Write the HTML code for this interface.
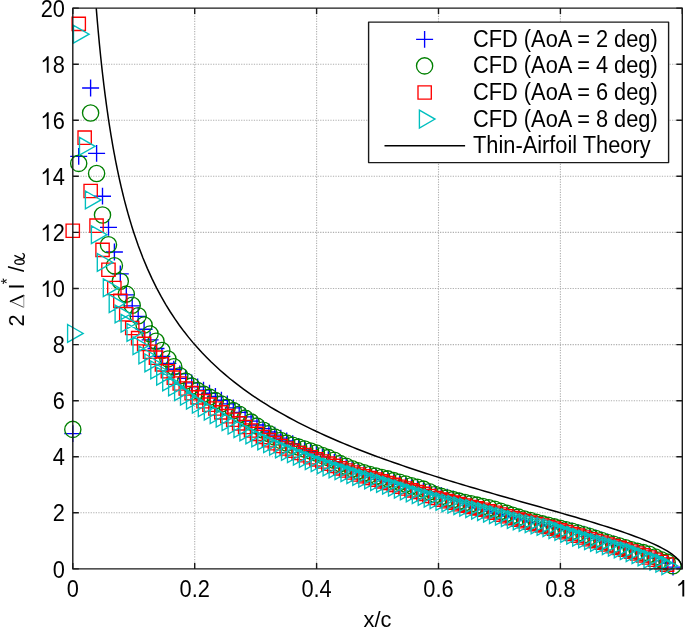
<!DOCTYPE html><html><head><meta charset="utf-8"><style>html,body{margin:0;padding:0;background:#fff}svg{display:block}text{font-family:"Liberation Sans",sans-serif}</style></head><body>
<svg width="685" height="628" viewBox="0 0 685 628">
<defs><filter id="gs" x="0" y="0" width="685" height="628" filterUnits="userSpaceOnUse"><feColorMatrix type="saturate" values="0"/></filter></defs>
<rect width="685" height="628" fill="#fff"/>
<path d="M194.7 8.1V568.9M316.6 8.1V568.9M438.5 8.1V568.9M560.4 8.1V568.9M72.8 512.8H682.3M72.8 456.7H682.3M72.8 400.7H682.3M72.8 344.6H682.3M72.8 288.5H682.3M72.8 232.4H682.3M72.8 176.3H682.3M72.8 120.3H682.3M72.8 64.2H682.3" stroke="#b0b0b0" stroke-width="1.1" stroke-dasharray="1.25 1.3" fill="none"/>
<path d="M64.3 433.6h17M72.8 425.2v16.8M70.2 156.4h17M78.7 148v16.8M82.1 88h17M90.6 79.6v16.8M88.1 153.3h17M96.6 144.9v16.8M94 196.2h17M102.5 187.8v16.8M100 227.4h17M108.5 219v16.8M105.9 252h17M114.4 243.6v16.8M111.8 273.9h17M120.3 265.5v16.8M117.8 294.9h17M126.3 286.5v16.8M123.7 305.9h17M132.2 297.5v16.8M129.7 316.3h17M138.2 307.9v16.8M135.6 329.2h17M144.1 320.8v16.8M141.6 339.8h17M150.1 331.4v16.8M147.5 348.5h17M156 340.1v16.8M153.4 356.3h17M161.9 347.9v16.8M159.4 363.3h17M167.9 354.9v16.8M165.3 369.2h17M173.8 360.8v16.8M171.3 373.9h17M179.8 365.5v16.8M177.2 378.3h17M185.7 369.9v16.8M183.2 382.8h17M191.7 374.4v16.8M189.1 386.8h17M197.6 378.4v16.8M195 390.1h17M203.5 381.7v16.8M201 393.2h17M209.5 384.8v16.8M206.9 396.5h17M215.4 388.1v16.8M212.9 400.2h17M221.4 391.8v16.8M218.8 403.9h17M227.3 395.5v16.8M224.8 407.9h17M233.3 399.5v16.8M230.7 412.3h17M239.2 403.9v16.8M236.6 416.8h17M245.1 408.4v16.8M242.6 421.1h17M251.1 412.7v16.8M248.5 425h17M257 416.6v16.8M254.5 428.6h17M263 420.2v16.8M260.4 432h17M268.9 423.6v16.8M266.3 435.1h17M274.8 426.7v16.8M272.3 438.1h17M280.8 429.7v16.8M278.2 441h17M286.7 432.6v16.8M284.2 443.7h17M292.7 435.3v16.8M290.1 446.4h17M298.6 438v16.8M296.1 449h17M304.6 440.6v16.8M302 451.6h17M310.5 443.2v16.8M307.9 454.1h17M316.4 445.7v16.8M313.9 456.8h17M322.4 448.4v16.8M319.8 459.6h17M328.3 451.2v16.8M325.8 462.4h17M334.3 454v16.8M331.7 465.1h17M340.2 456.7v16.8M337.7 467.5h17M346.2 459.1v16.8M343.6 469.7h17M352.1 461.3v16.8M349.5 471.8h17M358 463.4v16.8M355.5 473.8h17M364 465.4v16.8M361.4 475.7h17M369.9 467.3v16.8M367.4 477.5h17M375.9 469.1v16.8M373.3 479.3h17M381.8 470.9v16.8M379.3 481h17M387.8 472.6v16.8M385.2 482.7h17M393.7 474.3v16.8M391.1 484.4h17M399.6 476v16.8M397.1 486.1h17M405.6 477.7v16.8M403 487.7h17M411.5 479.3v16.8M409 489.3h17M417.5 480.9v16.8M414.9 490.8h17M423.4 482.4v16.8M420.9 492.4h17M429.4 484v16.8M426.8 493.9h17M435.3 485.5v16.8M432.7 495.4h17M441.2 487v16.8M438.7 497.1h17M447.2 488.7v16.8M444.6 499h17M453.1 490.6v16.8M450.6 501h17M459.1 492.6v16.8M456.5 503.5h17M465 495.1v16.8M462.5 505.8h17M471 497.4v16.8M468.4 507.7h17M476.9 499.3v16.8M474.3 509.6h17M482.8 501.2v16.8M480.3 511.3h17M488.8 502.9v16.8M486.2 513h17M494.7 504.6v16.8M492.2 514.5h17M500.7 506.1v16.8M498.1 516h17M506.6 507.6v16.8M504.1 517.5h17M512.6 509.1v16.8M510 518.9h17M518.5 510.5v16.8M515.9 520.3h17M524.4 511.9v16.8M521.9 521.7h17M530.4 513.3v16.8M527.8 523.1h17M536.3 514.7v16.8M533.8 524.4h17M542.3 516v16.8M539.7 525.7h17M548.2 517.3v16.8M545.7 527h17M554.2 518.6v16.8M551.6 528.3h17M560.1 519.9v16.8M557.5 529.6h17M566 521.2v16.8M563.5 530.9h17M572 522.5v16.8M569.4 532.3h17M577.9 523.9v16.8M575.4 534.1h17M583.9 525.7v16.8M581.3 536h17M589.8 527.6v16.8M587.3 538h17M595.8 529.6v16.8M593.2 540h17M601.7 531.6v16.8M599.1 542h17M607.6 533.6v16.8M605.1 543.8h17M613.6 535.4v16.8M611 545.7h17M619.5 537.3v16.8M617 547.6h17M625.5 539.2v16.8M622.9 549.4h17M631.4 541v16.8M628.8 551.3h17M637.3 542.9v16.8M634.8 553.3h17M643.3 544.9v16.8M640.7 555.6h17M649.2 547.2v16.8M646.7 558.3h17M655.2 549.9v16.8M652.6 560.8h17M661.1 552.4v16.8M658.6 563h17M667.1 554.6v16.8M664.5 567.1h17M673 558.7v16.8" stroke="#00f" stroke-width="1.35" fill="none"/>
<path d="M64.7 429.4a8.1 8.1 0 1 0 16.2 0a8.1 8.1 0 1 0 -16.2 0M70.6 163.4a8.1 8.1 0 1 0 16.2 0a8.1 8.1 0 1 0 -16.2 0M82.5 113a8.1 8.1 0 1 0 16.2 0a8.1 8.1 0 1 0 -16.2 0M88.5 173.5a8.1 8.1 0 1 0 16.2 0a8.1 8.1 0 1 0 -16.2 0M94.4 215a8.1 8.1 0 1 0 16.2 0a8.1 8.1 0 1 0 -16.2 0M100.4 244.8a8.1 8.1 0 1 0 16.2 0a8.1 8.1 0 1 0 -16.2 0M106.3 265.8a8.1 8.1 0 1 0 16.2 0a8.1 8.1 0 1 0 -16.2 0M112.2 281.2a8.1 8.1 0 1 0 16.2 0a8.1 8.1 0 1 0 -16.2 0M118.2 294.1a8.1 8.1 0 1 0 16.2 0a8.1 8.1 0 1 0 -16.2 0M124.1 305.3a8.1 8.1 0 1 0 16.2 0a8.1 8.1 0 1 0 -16.2 0M130.1 315.7a8.1 8.1 0 1 0 16.2 0a8.1 8.1 0 1 0 -16.2 0M136 325a8.1 8.1 0 1 0 16.2 0a8.1 8.1 0 1 0 -16.2 0M142 333.9a8.1 8.1 0 1 0 16.2 0a8.1 8.1 0 1 0 -16.2 0M147.9 341.2a8.1 8.1 0 1 0 16.2 0a8.1 8.1 0 1 0 -16.2 0M153.8 350.5a8.1 8.1 0 1 0 16.2 0a8.1 8.1 0 1 0 -16.2 0M159.8 358.9a8.1 8.1 0 1 0 16.2 0a8.1 8.1 0 1 0 -16.2 0M165.7 366.7a8.1 8.1 0 1 0 16.2 0a8.1 8.1 0 1 0 -16.2 0M171.7 375.7a8.1 8.1 0 1 0 16.2 0a8.1 8.1 0 1 0 -16.2 0M177.6 381.1a8.1 8.1 0 1 0 16.2 0a8.1 8.1 0 1 0 -16.2 0M183.6 386.1a8.1 8.1 0 1 0 16.2 0a8.1 8.1 0 1 0 -16.2 0M189.5 390.6a8.1 8.1 0 1 0 16.2 0a8.1 8.1 0 1 0 -16.2 0M195.4 394.1a8.1 8.1 0 1 0 16.2 0a8.1 8.1 0 1 0 -16.2 0M201.4 397.1a8.1 8.1 0 1 0 16.2 0a8.1 8.1 0 1 0 -16.2 0M207.3 400.6a8.1 8.1 0 1 0 16.2 0a8.1 8.1 0 1 0 -16.2 0M213.3 403.9a8.1 8.1 0 1 0 16.2 0a8.1 8.1 0 1 0 -16.2 0M219.2 407.2a8.1 8.1 0 1 0 16.2 0a8.1 8.1 0 1 0 -16.2 0M225.2 410.6a8.1 8.1 0 1 0 16.2 0a8.1 8.1 0 1 0 -16.2 0M231.1 414.2a8.1 8.1 0 1 0 16.2 0a8.1 8.1 0 1 0 -16.2 0M237 418.1a8.1 8.1 0 1 0 16.2 0a8.1 8.1 0 1 0 -16.2 0M243 422.1a8.1 8.1 0 1 0 16.2 0a8.1 8.1 0 1 0 -16.2 0M248.9 426.1a8.1 8.1 0 1 0 16.2 0a8.1 8.1 0 1 0 -16.2 0M254.9 430a8.1 8.1 0 1 0 16.2 0a8.1 8.1 0 1 0 -16.2 0M260.8 433.6a8.1 8.1 0 1 0 16.2 0a8.1 8.1 0 1 0 -16.2 0M266.7 437.1a8.1 8.1 0 1 0 16.2 0a8.1 8.1 0 1 0 -16.2 0M272.7 440.4a8.1 8.1 0 1 0 16.2 0a8.1 8.1 0 1 0 -16.2 0M278.6 443.1a8.1 8.1 0 1 0 16.2 0a8.1 8.1 0 1 0 -16.2 0M284.6 445.2a8.1 8.1 0 1 0 16.2 0a8.1 8.1 0 1 0 -16.2 0M290.5 447.1a8.1 8.1 0 1 0 16.2 0a8.1 8.1 0 1 0 -16.2 0M296.5 449a8.1 8.1 0 1 0 16.2 0a8.1 8.1 0 1 0 -16.2 0M302.4 450.9a8.1 8.1 0 1 0 16.2 0a8.1 8.1 0 1 0 -16.2 0M308.3 453a8.1 8.1 0 1 0 16.2 0a8.1 8.1 0 1 0 -16.2 0M314.3 455.4a8.1 8.1 0 1 0 16.2 0a8.1 8.1 0 1 0 -16.2 0M320.2 457.6a8.1 8.1 0 1 0 16.2 0a8.1 8.1 0 1 0 -16.2 0M326.2 460.3a8.1 8.1 0 1 0 16.2 0a8.1 8.1 0 1 0 -16.2 0M332.1 463.6a8.1 8.1 0 1 0 16.2 0a8.1 8.1 0 1 0 -16.2 0M338.1 466.3a8.1 8.1 0 1 0 16.2 0a8.1 8.1 0 1 0 -16.2 0M344 468.7a8.1 8.1 0 1 0 16.2 0a8.1 8.1 0 1 0 -16.2 0M349.9 470.8a8.1 8.1 0 1 0 16.2 0a8.1 8.1 0 1 0 -16.2 0M355.9 472.7a8.1 8.1 0 1 0 16.2 0a8.1 8.1 0 1 0 -16.2 0M361.8 474.4a8.1 8.1 0 1 0 16.2 0a8.1 8.1 0 1 0 -16.2 0M367.8 476a8.1 8.1 0 1 0 16.2 0a8.1 8.1 0 1 0 -16.2 0M373.7 477.5a8.1 8.1 0 1 0 16.2 0a8.1 8.1 0 1 0 -16.2 0M379.7 478.9a8.1 8.1 0 1 0 16.2 0a8.1 8.1 0 1 0 -16.2 0M385.6 480.6a8.1 8.1 0 1 0 16.2 0a8.1 8.1 0 1 0 -16.2 0M391.5 482.3a8.1 8.1 0 1 0 16.2 0a8.1 8.1 0 1 0 -16.2 0M397.5 484a8.1 8.1 0 1 0 16.2 0a8.1 8.1 0 1 0 -16.2 0M403.4 485.7a8.1 8.1 0 1 0 16.2 0a8.1 8.1 0 1 0 -16.2 0M409.4 487.3a8.1 8.1 0 1 0 16.2 0a8.1 8.1 0 1 0 -16.2 0M415.3 489.1a8.1 8.1 0 1 0 16.2 0a8.1 8.1 0 1 0 -16.2 0M421.3 491.8a8.1 8.1 0 1 0 16.2 0a8.1 8.1 0 1 0 -16.2 0M427.2 494.5a8.1 8.1 0 1 0 16.2 0a8.1 8.1 0 1 0 -16.2 0M433.1 496.4a8.1 8.1 0 1 0 16.2 0a8.1 8.1 0 1 0 -16.2 0M439.1 498a8.1 8.1 0 1 0 16.2 0a8.1 8.1 0 1 0 -16.2 0M445 499.6a8.1 8.1 0 1 0 16.2 0a8.1 8.1 0 1 0 -16.2 0M451 501.1a8.1 8.1 0 1 0 16.2 0a8.1 8.1 0 1 0 -16.2 0M456.9 502.5a8.1 8.1 0 1 0 16.2 0a8.1 8.1 0 1 0 -16.2 0M462.9 503.8a8.1 8.1 0 1 0 16.2 0a8.1 8.1 0 1 0 -16.2 0M468.8 505.1a8.1 8.1 0 1 0 16.2 0a8.1 8.1 0 1 0 -16.2 0M474.7 506.4a8.1 8.1 0 1 0 16.2 0a8.1 8.1 0 1 0 -16.2 0M480.7 507.7a8.1 8.1 0 1 0 16.2 0a8.1 8.1 0 1 0 -16.2 0M486.6 509.3a8.1 8.1 0 1 0 16.2 0a8.1 8.1 0 1 0 -16.2 0M492.6 511.3a8.1 8.1 0 1 0 16.2 0a8.1 8.1 0 1 0 -16.2 0M498.5 513.3a8.1 8.1 0 1 0 16.2 0a8.1 8.1 0 1 0 -16.2 0M504.5 515.3a8.1 8.1 0 1 0 16.2 0a8.1 8.1 0 1 0 -16.2 0M510.4 517.1a8.1 8.1 0 1 0 16.2 0a8.1 8.1 0 1 0 -16.2 0M516.3 518.9a8.1 8.1 0 1 0 16.2 0a8.1 8.1 0 1 0 -16.2 0M522.3 520.5a8.1 8.1 0 1 0 16.2 0a8.1 8.1 0 1 0 -16.2 0M528.2 522.2a8.1 8.1 0 1 0 16.2 0a8.1 8.1 0 1 0 -16.2 0M534.2 523.8a8.1 8.1 0 1 0 16.2 0a8.1 8.1 0 1 0 -16.2 0M540.1 525.3a8.1 8.1 0 1 0 16.2 0a8.1 8.1 0 1 0 -16.2 0M546.1 526.8a8.1 8.1 0 1 0 16.2 0a8.1 8.1 0 1 0 -16.2 0M552 528.3a8.1 8.1 0 1 0 16.2 0a8.1 8.1 0 1 0 -16.2 0M557.9 529.8a8.1 8.1 0 1 0 16.2 0a8.1 8.1 0 1 0 -16.2 0M563.9 531.3a8.1 8.1 0 1 0 16.2 0a8.1 8.1 0 1 0 -16.2 0M569.8 532.9a8.1 8.1 0 1 0 16.2 0a8.1 8.1 0 1 0 -16.2 0M575.8 534.7a8.1 8.1 0 1 0 16.2 0a8.1 8.1 0 1 0 -16.2 0M581.7 536.5a8.1 8.1 0 1 0 16.2 0a8.1 8.1 0 1 0 -16.2 0M587.7 538.5a8.1 8.1 0 1 0 16.2 0a8.1 8.1 0 1 0 -16.2 0M593.6 540.5a8.1 8.1 0 1 0 16.2 0a8.1 8.1 0 1 0 -16.2 0M599.5 542.4a8.1 8.1 0 1 0 16.2 0a8.1 8.1 0 1 0 -16.2 0M605.5 544.2a8.1 8.1 0 1 0 16.2 0a8.1 8.1 0 1 0 -16.2 0M611.4 545.9a8.1 8.1 0 1 0 16.2 0a8.1 8.1 0 1 0 -16.2 0M617.4 547.7a8.1 8.1 0 1 0 16.2 0a8.1 8.1 0 1 0 -16.2 0M623.3 549.7a8.1 8.1 0 1 0 16.2 0a8.1 8.1 0 1 0 -16.2 0M629.2 551.2a8.1 8.1 0 1 0 16.2 0a8.1 8.1 0 1 0 -16.2 0M635.2 552.6a8.1 8.1 0 1 0 16.2 0a8.1 8.1 0 1 0 -16.2 0M641.1 554.3a8.1 8.1 0 1 0 16.2 0a8.1 8.1 0 1 0 -16.2 0M647.1 556.9a8.1 8.1 0 1 0 16.2 0a8.1 8.1 0 1 0 -16.2 0M653 559.7a8.1 8.1 0 1 0 16.2 0a8.1 8.1 0 1 0 -16.2 0M659 562.1a8.1 8.1 0 1 0 16.2 0a8.1 8.1 0 1 0 -16.2 0M664.9 565.8a8.1 8.1 0 1 0 16.2 0a8.1 8.1 0 1 0 -16.2 0" stroke="#008000" stroke-width="1.35" fill="none"/>
<path d="M66.1 224.1h13.3v13.3h-13.3zM72.1 17.2h13.3v13.3h-13.3zM78 131h13.3v13.3h-13.3zM84 184.3h13.3v13.3h-13.3zM89.9 219h13.3v13.3h-13.3zM95.9 243.2h13.3v13.3h-13.3zM101.8 263.1h13.3v13.3h-13.3zM107.7 281.3h13.3v13.3h-13.3zM113.7 294.2h13.3v13.3h-13.3zM119.6 307.6h13.3v13.3h-13.3zM125.6 321.4h13.3v13.3h-13.3zM131.5 331.5h13.3v13.3h-13.3zM137.5 337.2h13.3v13.3h-13.3zM143.4 345.1h13.3v13.3h-13.3zM149.3 351h13.3v13.3h-13.3zM155.3 357.7h13.3v13.3h-13.3zM161.2 364.6h13.3v13.3h-13.3zM167.2 371h13.3v13.3h-13.3zM173.1 376.8h13.3v13.3h-13.3zM179.1 381.9h13.3v13.3h-13.3zM185 386.5h13.3v13.3h-13.3zM190.9 390.7h13.3v13.3h-13.3zM196.9 394.5h13.3v13.3h-13.3zM202.8 398h13.3v13.3h-13.3zM208.8 401.8h13.3v13.3h-13.3zM214.7 405.7h13.3v13.3h-13.3zM220.7 409.5h13.3v13.3h-13.3zM226.6 413.1h13.3v13.3h-13.3zM232.5 416.7h13.3v13.3h-13.3zM238.5 420.3h13.3v13.3h-13.3zM244.4 423.8h13.3v13.3h-13.3zM250.4 427.2h13.3v13.3h-13.3zM256.3 430.4h13.3v13.3h-13.3zM262.3 433.5h13.3v13.3h-13.3zM268.2 436.5h13.3v13.3h-13.3zM274.1 439.3h13.3v13.3h-13.3zM280.1 441.8h13.3v13.3h-13.3zM286 444.1h13.3v13.3h-13.3zM292 446.3h13.3v13.3h-13.3zM297.9 448.5h13.3v13.3h-13.3zM303.9 450.6h13.3v13.3h-13.3zM309.8 452.7h13.3v13.3h-13.3zM315.7 454.9h13.3v13.3h-13.3zM321.7 457h13.3v13.3h-13.3zM327.6 459.2h13.3v13.3h-13.3zM333.6 461.7h13.3v13.3h-13.3zM339.5 463.8h13.3v13.3h-13.3zM345.5 465.9h13.3v13.3h-13.3zM351.4 467.8h13.3v13.3h-13.3zM357.3 469.6h13.3v13.3h-13.3zM363.3 471.3h13.3v13.3h-13.3zM369.2 473h13.3v13.3h-13.3zM375.2 474.7h13.3v13.3h-13.3zM381.1 476.4h13.3v13.3h-13.3zM387.1 478.2h13.3v13.3h-13.3zM393 480.1h13.3v13.3h-13.3zM398.9 481.9h13.3v13.3h-13.3zM404.9 483.7h13.3v13.3h-13.3zM410.8 485.4h13.3v13.3h-13.3zM416.8 487.2h13.3v13.3h-13.3zM422.7 489.3h13.3v13.3h-13.3zM428.7 491.3h13.3v13.3h-13.3zM434.6 493h13.3v13.3h-13.3zM440.5 494.5h13.3v13.3h-13.3zM446.5 496h13.3v13.3h-13.3zM452.4 497.5h13.3v13.3h-13.3zM458.4 498.9h13.3v13.3h-13.3zM464.3 500.3h13.3v13.3h-13.3zM470.2 501.7h13.3v13.3h-13.3zM476.2 503.1h13.3v13.3h-13.3zM482.1 504.6h13.3v13.3h-13.3zM488.1 506.1h13.3v13.3h-13.3zM494 507.9h13.3v13.3h-13.3zM500 509.6h13.3v13.3h-13.3zM505.9 511.4h13.3v13.3h-13.3zM511.8 513h13.3v13.3h-13.3zM517.8 514.5h13.3v13.3h-13.3zM523.7 516h13.3v13.3h-13.3zM529.7 517.4h13.3v13.3h-13.3zM535.6 518.8h13.3v13.3h-13.3zM541.6 520.3h13.3v13.3h-13.3zM547.5 522h13.3v13.3h-13.3zM553.4 523.7h13.3v13.3h-13.3zM559.4 525.5h13.3v13.3h-13.3zM565.3 527.3h13.3v13.3h-13.3zM571.3 529h13.3v13.3h-13.3zM577.2 530.8h13.3v13.3h-13.3zM583.2 532.6h13.3v13.3h-13.3zM589.1 534.4h13.3v13.3h-13.3zM595 536.1h13.3v13.3h-13.3zM601 537.8h13.3v13.3h-13.3zM606.9 539.5h13.3v13.3h-13.3zM612.9 541.2h13.3v13.3h-13.3zM618.8 543h13.3v13.3h-13.3zM624.8 544.9h13.3v13.3h-13.3zM630.7 546.8h13.3v13.3h-13.3zM636.6 548.7h13.3v13.3h-13.3zM642.6 550.8h13.3v13.3h-13.3zM648.5 553.1h13.3v13.3h-13.3zM654.5 555.4h13.3v13.3h-13.3zM660.4 557.9h13.3v13.3h-13.3z" stroke="#f00" stroke-width="1.35" fill="none"/>
<path d="M67.6 324.5L83.2 333.4L67.6 342.3zM73.5 25.3L89.1 34.2L73.5 43.1zM79.5 137.4L95.1 146.3L79.5 155.2zM85.4 191L101 199.9L85.4 208.8zM91.4 225.8L107 234.7L91.4 243.6zM97.3 253.5L112.9 262.4L97.3 271.3zM103.3 278.8L118.9 287.7L103.3 296.6zM109.2 294.7L124.8 303.6L109.2 312.5zM115.1 305.1L130.7 314L115.1 322.9zM121.1 314.4L136.7 323.3L121.1 332.2zM127 323.6L142.6 332.5L127 341.4zM133 336.8L148.6 345.7L133 354.6zM138.9 346L154.5 354.9L138.9 363.8zM144.9 354L160.5 362.9L144.9 371.8zM150.8 361L166.4 369.9L150.8 378.8zM156.7 367.3L172.3 376.2L156.7 385.1zM162.7 373L178.3 381.9L162.7 390.8zM168.6 378.1L184.2 387L168.6 395.9zM174.6 382.8L190.2 391.7L174.6 400.6zM180.5 387.2L196.1 396.1L180.5 405zM186.5 391.3L202.1 400.2L186.5 409.1zM192.4 395.2L208 404.1L192.4 413zM198.3 398.8L213.9 407.7L198.3 416.6zM204.3 402.2L219.9 411.1L204.3 420zM210.2 405.7L225.8 414.6L210.2 423.5zM216.2 409.3L231.8 418.2L216.2 427.1zM222.1 412.9L237.7 421.8L222.1 430.7zM228.1 416.4L243.7 425.3L228.1 434.2zM234 419.8L249.6 428.7L234 437.6zM239.9 423L255.5 431.9L239.9 440.8zM245.9 426.1L261.5 435L245.9 443.9zM251.8 429.1L267.4 438L251.8 446.9zM257.8 432L273.4 440.9L257.8 449.8zM263.7 434.7L279.3 443.6L263.7 452.5zM269.6 437.4L285.2 446.3L269.6 455.2zM275.6 440L291.2 448.9L275.6 457.8zM281.5 442.5L297.1 451.4L281.5 460.3zM287.5 444.9L303.1 453.8L287.5 462.7zM293.4 447.3L309 456.2L293.4 465.1zM299.4 449.5L315 458.4L299.4 467.3zM305.3 451.7L320.9 460.6L305.3 469.5zM311.2 453.9L326.8 462.8L311.2 471.7zM317.2 456L332.8 464.9L317.2 473.8zM323.1 458L338.7 466.9L323.1 475.8zM329.1 460L344.7 468.9L329.1 477.8zM335 461.9L350.6 470.8L335 479.7zM341 463.8L356.6 472.7L341 481.6zM346.9 465.7L362.5 474.6L346.9 483.5zM352.8 467.5L368.4 476.4L352.8 485.3zM358.8 469.3L374.4 478.2L358.8 487.1zM364.7 471L380.3 479.9L364.7 488.8zM370.7 472.7L386.3 481.6L370.7 490.5zM376.6 474.5L392.2 483.4L376.6 492.3zM382.6 476.3L398.2 485.2L382.6 494.1zM388.5 478.3L404.1 487.2L388.5 496.1zM394.4 480.2L410 489.1L394.4 498zM400.4 482.1L416 491L400.4 499.9zM406.3 484L421.9 492.9L406.3 501.8zM412.3 485.8L427.9 494.7L412.3 503.6zM418.2 487.5L433.8 496.4L418.2 505.3zM424.2 489.3L439.8 498.2L424.2 507.1zM430.1 490.9L445.7 499.8L430.1 508.7zM436 492.5L451.6 501.4L436 510.3zM442 494L457.6 502.9L442 511.8zM447.9 495.4L463.5 504.3L447.9 513.2zM453.9 496.9L469.5 505.8L453.9 514.7zM459.8 498.3L475.4 507.2L459.8 516.1zM465.8 499.7L481.4 508.6L465.8 517.5zM471.7 501.2L487.3 510.1L471.7 519zM477.6 502.7L493.2 511.6L477.6 520.5zM483.6 504.2L499.2 513.1L483.6 522zM489.5 505.8L505.1 514.7L489.5 523.6zM495.5 507.3L511.1 516.2L495.5 525.1zM501.4 508.9L517 517.8L501.4 526.7zM507.4 510.6L523 519.5L507.4 528.4zM513.3 512.1L528.9 521L513.3 529.9zM519.2 513.5L534.8 522.4L519.2 531.3zM525.2 514.8L540.8 523.7L525.2 532.6zM531.1 516.1L546.7 525L531.1 533.9zM537.1 517.5L552.7 526.4L537.1 535.3zM543 518.9L558.6 527.8L543 536.7zM549 520.7L564.6 529.6L549 538.5zM554.9 522.6L570.5 531.5L554.9 540.4zM560.8 524.5L576.4 533.4L560.8 542.3zM566.8 526.4L582.4 535.3L566.8 544.2zM572.7 528.3L588.3 537.2L572.7 546.1zM578.7 530.1L594.3 539L578.7 547.9zM584.6 531.8L600.2 540.7L584.6 549.6zM590.6 533.5L606.2 542.4L590.6 551.3zM596.5 535.1L612.1 544L596.5 552.9zM602.4 536.7L618 545.6L602.4 554.5zM608.4 538.4L624 547.3L608.4 556.2zM614.3 540L629.9 548.9L614.3 557.8zM620.3 541.8L635.9 550.7L620.3 559.6zM626.2 543.7L641.8 552.6L626.2 561.5zM632.1 545.8L647.7 554.7L632.1 563.6zM638.1 548L653.7 556.9L638.1 565.8zM644 550.3L659.6 559.2L644 568.1zM650 552.3L665.6 561.2L650 570.1zM655.9 554.4L671.5 563.3L655.9 572.2zM661.9 556.9L677.5 565.8L661.9 574.7z" stroke="#00bfbf" stroke-width="1.35" fill="none" stroke-linejoin="miter"/>
<path d="M96.24 8.10 L96.88 15.85 L97.51 23.31 L98.15 30.49 L98.79 37.40 L99.42 44.07 L100.06 50.51 L100.69 56.73 L101.33 62.75 L101.96 68.57 L102.60 74.21 L103.24 79.67 L103.87 84.97 L104.51 90.11 L105.14 95.10 L105.78 99.94 L106.41 104.66 L107.05 109.24 L107.69 113.70 L108.32 118.04 L108.96 122.27 L109.59 126.39 L110.23 130.41 L110.86 134.32 L111.50 138.15 L112.14 141.88 L112.77 145.53 L113.41 149.09 L114.04 152.57 L114.68 155.97 L115.31 159.30 L115.95 162.56 L116.59 165.75 L117.22 168.87 L117.86 171.92 L118.49 174.91 L119.13 177.85 L119.76 180.72 L120.40 183.54 L121.04 186.31 L121.67 189.02 L122.31 191.68 L122.94 194.29 L123.58 196.85 L124.21 199.37 L124.85 201.84 L125.49 204.27 L126.12 206.66 L126.76 209.01 L127.39 211.31 L128.03 213.58 L128.66 215.81 L129.30 218.01 L129.94 220.16 L130.57 222.29 L131.21 224.38 L131.84 226.44 L132.48 228.46 L133.11 230.46 L133.75 232.42 L138.31 245.69 L142.87 257.69 L147.43 268.62 L151.98 278.64 L156.54 287.87 L161.10 296.41 L165.66 304.34 L170.22 311.75 L174.78 318.68 L179.33 325.20 L183.89 331.33 L188.45 337.13 L193.01 342.62 L197.57 347.83 L202.13 352.78 L206.69 357.50 L211.24 362.01 L215.80 366.32 L220.36 370.45 L224.92 374.42 L229.48 378.22 L234.04 381.89 L238.59 385.41 L243.15 388.82 L247.71 392.11 L252.27 395.28 L256.83 398.36 L261.39 401.34 L265.94 404.22 L270.50 407.03 L275.06 409.75 L279.62 412.40 L284.18 414.97 L288.74 417.48 L293.30 419.92 L297.85 422.31 L302.41 424.63 L306.97 426.90 L311.53 429.12 L316.09 431.29 L320.65 433.41 L325.20 435.49 L329.76 437.53 L334.32 439.52 L338.88 441.48 L343.44 443.40 L348.00 445.28 L352.56 447.13 L357.11 448.95 L361.67 450.74 L366.23 452.49 L370.79 454.22 L375.35 455.93 L379.91 457.60 L384.46 459.26 L389.02 460.89 L393.58 462.49 L398.14 464.08 L402.70 465.64 L407.26 467.19 L411.82 468.72 L416.37 470.22 L420.93 471.72 L425.49 473.19 L430.05 474.65 L434.61 476.10 L439.17 477.53 L443.72 478.95 L448.28 480.35 L452.84 481.75 L457.40 483.13 L461.96 484.50 L466.52 485.87 L471.07 487.22 L475.63 488.56 L480.19 489.90 L484.75 491.23 L489.31 492.55 L493.87 493.87 L498.43 495.18 L502.98 496.49 L507.54 497.79 L512.10 499.09 L516.66 500.38 L521.22 501.68 L525.78 502.97 L530.33 504.26 L534.89 505.55 L539.45 506.84 L544.01 508.14 L548.57 509.44 L553.13 510.74 L557.69 512.04 L562.24 513.35 L566.80 514.67 L571.36 515.99 L575.92 517.33 L580.48 518.67 L585.04 520.03 L589.59 521.40 L594.15 522.78 L598.71 524.18 L603.27 525.61 L607.83 527.05 L612.39 528.53 L616.95 530.03 L621.50 531.57 L626.06 533.14 L630.62 534.76 L635.18 536.43 L639.74 538.17 L644.30 539.98 L648.85 541.87 L653.41 543.88 L657.97 546.03 L662.53 548.36 L667.09 550.96 L671.65 553.94 L676.20 557.63 L676.42 557.83 L676.63 558.03 L676.84 558.23 L677.05 558.44 L677.26 558.65 L677.47 558.87 L677.68 559.09 L677.89 559.32 L678.10 559.55 L678.31 559.79 L678.52 560.04 L678.73 560.29 L678.94 560.55 L679.15 560.81 L679.36 561.09 L679.57 561.37 L679.78 561.67 L679.99 561.98 L680.20 562.30 L680.41 562.64 L680.62 563.00 L680.83 563.38 L681.04 563.79 L681.25 564.24 L681.46 564.73 L681.67 565.29 L681.88 565.95 L682.09 566.82 L682.30 568.90" stroke="#000" stroke-width="1.5" fill="none"/>
<rect x="72.8" y="8.1" width="609.5" height="560.8" fill="none" stroke="#1a1a1a" stroke-width="1.4" stroke-linejoin="round"/>
<path d="M72.8 568.9v-6M72.8 8.1v6M194.7 568.9v-6M194.7 8.1v6M316.6 568.9v-6M316.6 8.1v6M438.5 568.9v-6M438.5 8.1v6M560.4 568.9v-6M560.4 8.1v6M682.3 568.9v-6M682.3 8.1v6M72.8 568.9h6M682.3 568.9h-6M72.8 512.8h6M682.3 512.8h-6M72.8 456.7h6M682.3 456.7h-6M72.8 400.7h6M682.3 400.7h-6M72.8 344.6h6M682.3 344.6h-6M72.8 288.5h6M682.3 288.5h-6M72.8 232.4h6M682.3 232.4h-6M72.8 176.3h6M682.3 176.3h-6M72.8 120.3h6M682.3 120.3h-6M72.8 64.2h6M682.3 64.2h-6M72.8 8.1h6M682.3 8.1h-6" stroke="#1a1a1a" stroke-width="1.4" fill="none"/>
<path d="M10.6 301.3L23.6 295.6" stroke="#000" stroke-width="1.7" fill="none" stroke-linecap="round"/>
<path d="M10.6 301.3L23.6 307.3" stroke="#333" stroke-width="0.9" fill="none"/>
<path d="M23.8 295.5V307.4" stroke="#999" stroke-width="1" fill="none"/>
<ellipse cx="19.5" cy="261.9" rx="4.7" ry="2.35" stroke="#000" stroke-width="1.3" fill="none"/>
<path d="M22.5 259.2L14.4 255.3M22.5 259.2Q24.6 257.4 24.3 255.2Q23.9 253.5 22.4 253.4" stroke="#000" stroke-width="1.45" fill="none"/>
<rect x="368.6" y="22.1" width="300" height="140.5" fill="#fff" stroke="#1a1a1a" stroke-width="1.4" stroke-linejoin="round"/>
<path d="M416.1 39.3h17M424.6 30.9v16.8" stroke="#00f" stroke-width="1.35" fill="none"/>
<path d="M416.5 65.9a8.1 8.1 0 1 0 16.2 0a8.1 8.1 0 1 0 -16.2 0" stroke="#008000" stroke-width="1.35" fill="none"/>
<path d="M418 85.8h13.3v13.3h-13.3z" stroke="#f00" stroke-width="1.35" fill="none"/>
<path d="M419.4 110.2L435 119.1L419.4 128z" stroke="#00bfbf" stroke-width="1.35" fill="none" stroke-linejoin="miter"/>
<path d="M384.5 145.7H465.1" stroke="#000" stroke-width="1.5"/>
<g filter="url(#gs)"><g font-size="21.8" fill="#000"><text transform="translate(72.8 596.6) scale(1 1.06)" text-anchor="middle">0</text><text transform="translate(194.7 596.6) scale(1 1.06)" text-anchor="middle">0.2</text><text transform="translate(316.6 596.6) scale(1 1.06)" text-anchor="middle">0.4</text><text transform="translate(438.5 596.6) scale(1 1.06)" text-anchor="middle">0.6</text><text transform="translate(560.4 596.6) scale(1 1.06)" text-anchor="middle">0.8</text><path transform="translate(676.24 596.6) scale(1 1.06)" d="M6.1 0V-12.3C5 -11.3 3.6 -10.4 2.1 -9.8V-11.6C3.9 -12.5 5.6 -14 6.4 -15.6H8V0Z"/><text transform="translate(64.9 577.5) scale(1 1.06)" text-anchor="end">0</text><text transform="translate(64.9 521.4) scale(1 1.06)" text-anchor="end">2</text><text transform="translate(64.9 465.3) scale(1 1.06)" text-anchor="end">4</text><text transform="translate(64.9 409.3) scale(1 1.06)" text-anchor="end">6</text><text transform="translate(64.9 353.2) scale(1 1.06)" text-anchor="end">8</text><path transform="translate(40.66 297.1) scale(1 1.06)" d="M6.1 0V-12.3C5 -11.3 3.6 -10.4 2.1 -9.8V-11.6C3.9 -12.5 5.6 -14 6.4 -15.6H8V0Z"/><text transform="translate(64.9 297.1) scale(1 1.06)" text-anchor="end">0</text><path transform="translate(40.66 241) scale(1 1.06)" d="M6.1 0V-12.3C5 -11.3 3.6 -10.4 2.1 -9.8V-11.6C3.9 -12.5 5.6 -14 6.4 -15.6H8V0Z"/><text transform="translate(64.9 241) scale(1 1.06)" text-anchor="end">2</text><path transform="translate(40.66 184.9) scale(1 1.06)" d="M6.1 0V-12.3C5 -11.3 3.6 -10.4 2.1 -9.8V-11.6C3.9 -12.5 5.6 -14 6.4 -15.6H8V0Z"/><text transform="translate(64.9 184.9) scale(1 1.06)" text-anchor="end">4</text><path transform="translate(40.66 128.9) scale(1 1.06)" d="M6.1 0V-12.3C5 -11.3 3.6 -10.4 2.1 -9.8V-11.6C3.9 -12.5 5.6 -14 6.4 -15.6H8V0Z"/><text transform="translate(64.9 128.9) scale(1 1.06)" text-anchor="end">6</text><path transform="translate(40.66 72.8) scale(1 1.06)" d="M6.1 0V-12.3C5 -11.3 3.6 -10.4 2.1 -9.8V-11.6C3.9 -12.5 5.6 -14 6.4 -15.6H8V0Z"/><text transform="translate(64.9 72.8) scale(1 1.06)" text-anchor="end">8</text><text transform="translate(64.9 16.7) scale(1 1.06)" text-anchor="end">20</text></g><text x="377.5" y="627.2" text-anchor="middle" font-size="21.8">x/c</text><g transform="translate(24.2 0) rotate(-90) scale(1 1.05)" fill="#000" font-size="21.7"><text x="-326.6" y="0">2</text><text x="-289.6" y="0">I</text><text x="-284.3" y="-11.2" font-size="15.5">*</text><text x="-271.9" y="0">/</text></g><g font-size="21.8"><text transform="translate(473 46.8) scale(1 1.06)">CFD (AoA = 2 deg)</text></g><g font-size="21.8"><text transform="translate(473 73.4) scale(1 1.06)">CFD (AoA = 4 deg)</text></g><g font-size="21.8"><text transform="translate(473 100) scale(1 1.06)">CFD (AoA = 6 deg)</text></g><g font-size="21.8"><text transform="translate(473 126.6) scale(1 1.06)">CFD (AoA = 8 deg)</text></g><g font-size="21.8"><text transform="translate(473 153.2) scale(1 1.06)">Thin-Airfoil Theory</text></g></g>
</svg></body></html>
